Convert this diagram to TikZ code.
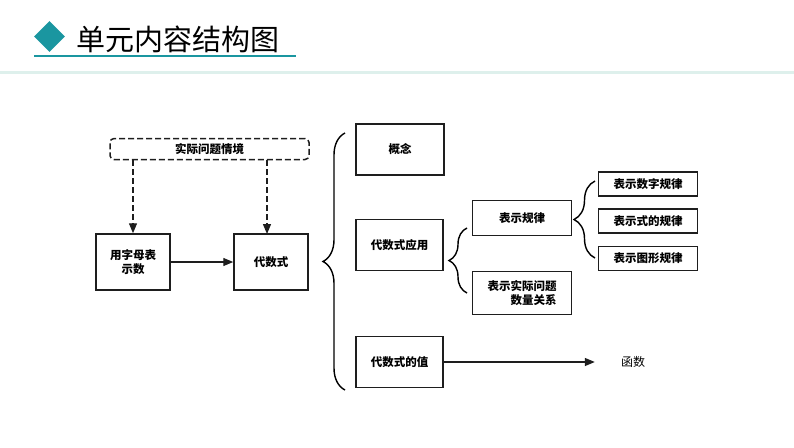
\documentclass[tikz,border=0pt]{standalone}
\usepackage{fontspec}
\setmainfont{Noto Sans CJK SC}
\usetikzlibrary{arrows.meta,decorations.pathreplacing,shapes.geometric}
\definecolor{titleteal}{RGB}{26, 150, 160}
\definecolor{paleteal}{RGB}{222, 240, 236}
\definecolor{linegray}{RGB}{30, 30, 30}

\tikzset{
  box/.style={draw=linegray, line width=1.5pt, inner sep=2pt, font=\fontsize{11.5}{14}\selectfont\bfseries},
  link/.style={draw=linegray, line width=1.3pt, -{Triangle[length=10pt,width=8pt]}},
  dlink/.style={link, dashed, dash pattern=on 6pt off 3pt},
  curly/.style={draw=black, line width=1.4pt, decorate, decoration={brace, amplitude=#1}}
}

\begin{document}
\begin{tikzpicture}[x=1pt, y=-1pt]
\useasboundingbox (0,0) rectangle (794,447);
% heading
\fill[paleteal] (0,70.5) rectangle (794,73.5);
\node[fill=titleteal, diamond, shape aspect=1, minimum size=31pt, inner sep=0pt] (dia) at (49.5,36.5) {};
\node[anchor=west, inner sep=0pt, font=\fontsize{29}{32}\selectfont] (title) at (76,39) {单元内容结构图};
\draw[titleteal, line width=2pt] (34,56) -- (296,56);

% left part
\node[box, dashed, dash pattern=on 6pt off 3pt, rounded corners=4pt, minimum width=199pt, minimum height=21pt] (sit) at (209.5,149) {实际问题情境};
\node[box, minimum width=74pt, minimum height=56pt, align=center] (zimu) at (133,262) {用字母表\\示数};
\node[box, minimum width=74pt, minimum height=56pt] (dsh) at (271,262) {代数式};

\draw[dlink] (sit.south -| zimu.north) -- (zimu.north);
\draw[dlink] (sit.south -| 267,0) -- (267,234);
\draw[link] (zimu) -- (dsh);

% middle column
\node[box, minimum width=88pt, minimum height=51pt] (gn) at (400,149.5) {概念};
\node[box, minimum width=87pt, minimum height=51pt] (yy) at (399.5,245) {代数式应用};
\node[box, minimum width=87pt, minimum height=51pt] (zhi) at (399.5,362) {代数式的值};
\node[inner sep=2pt, font=\fontsize{12}{14}\selectfont] (hs) at (633,362) {函数};
\draw[link, shorten >=24pt] (zhi) -- (hs);

\coordinate (b1top) at (345,133);
\coordinate (b1bot) at (345,390);
\draw[curly=22pt] (b1bot) -- (b1top);

% application
\node[box, minimum width=99pt, minimum height=35pt] (gl) at (522,218) {表示规律};
\node[box, minimum width=99pt, minimum height=43pt, align=right] (sj) at (522,293) {表示实际问题\\数量关系};
\coordinate (b2top) at (467,228);
\coordinate (b2bot) at (467,293);
\draw[curly=18pt] (b2bot) -- (b2top);

% patterns
\node[box, minimum width=99pt, minimum height=24pt] (r1) at (648,184) {表示数字规律};
\node[box, minimum width=99pt, minimum height=24pt] (r2) at (648,221) {表示式的规律};
\node[box, minimum width=99pt, minimum height=24pt] (r3) at (648,258.5) {表示图形规律};
\coordinate (b3top) at (595,181);
\coordinate (b3bot) at (595,258);
\draw[curly=21pt] (b3bot) -- (b3top);
\end{tikzpicture}
\end{document}
